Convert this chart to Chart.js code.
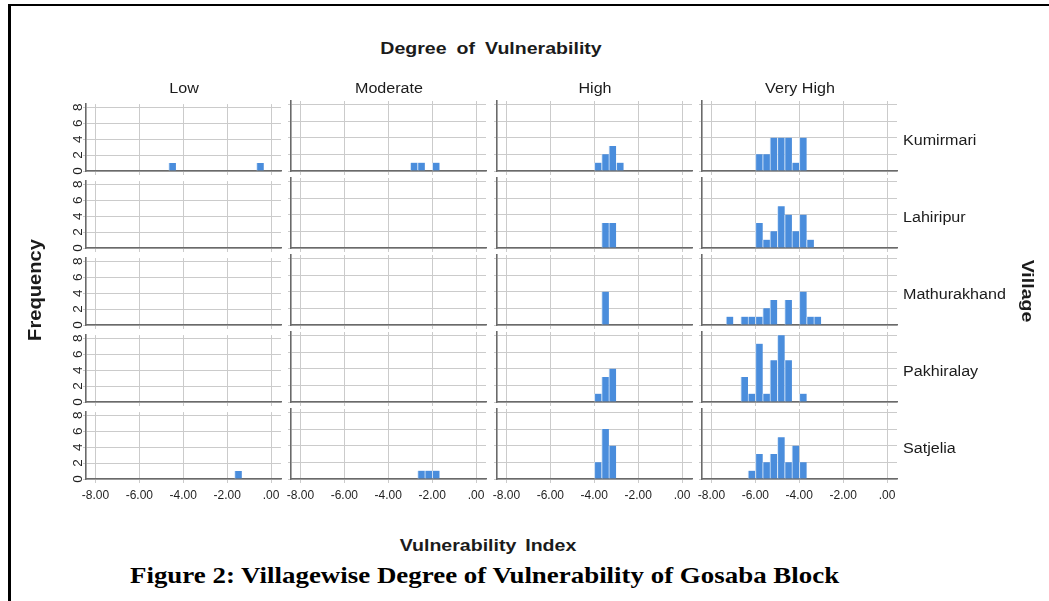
<!DOCTYPE html>
<html><head><meta charset="utf-8">
<script src="https://cdn.jsdelivr.net/npm/chart.js@4.4.1/dist/chart.umd.min.js"></script>
<style>
html,body{margin:0;padding:0;background:#fff;}
body{width:1049px;height:601px;position:relative;overflow:hidden;font-family:"Liberation Sans",Arial,sans-serif;}
.t{position:absolute;white-space:nowrap;color:#1b1b1b;transform:translate(-50%,-50%);line-height:1;}
canvas{position:absolute;}
</style></head><body>
<div style="position:absolute;left:8px;top:4px;width:3px;height:597px;background:#000"></div>
<div style="position:absolute;left:8px;top:4px;width:1041px;height:2px;background:#000"></div>
<div id="wrap"></div>
<script>
// ---- data ----
const villages = ['Kumirmari', 'Lahiripur', 'Mathurakhand', 'Pakhiralay', 'Satjelia'];
const degrees = ['Low', 'Moderate', 'High', 'Very High'];
const binCenters = [-7.17, -6.83, -6.50, -6.17, -5.83, -5.50, -5.17, -4.83, -4.50, -4.17, -3.83,
                    -3.50, -3.17, -2.83, -2.50, -2.17, -1.83, -1.50, -1.17, -0.83, -0.50];
const xTickValues = [-8, -6, -4, -2, 0];
const xTickLabels = ['-8.00', '-6.00', '-4.00', '-2.00', '.00'];
const yTickValues = [0, 2, 4, 6, 8];
const yTickLabels = ['0', '2', '4', '6', '8'];

const kumirmariLow       = [0,0,0,0,0,0,0,0,1,0,0,0,0,0,0,0,0,0,0,0,1];
const kumirmariModerate  = [0,0,0,0,0,0,0,0,0,0,0,0,0,1,1,0,1,0,0,0,0];
const kumirmariHigh      = [0,0,0,0,0,0,0,0,0,0,1,2,3,1,0,0,0,0,0,0,0];
const kumirmariVeryHigh  = [0,0,0,0,2,2,4,4,4,1,4,0,0,0,0,0,0,0,0,0,0];

const lahiripurLow       = [0,0,0,0,0,0,0,0,0,0,0,0,0,0,0,0,0,0,0,0,0];
const lahiripurModerate  = [0,0,0,0,0,0,0,0,0,0,0,0,0,0,0,0,0,0,0,0,0];
const lahiripurHigh      = [0,0,0,0,0,0,0,0,0,0,0,3,3,0,0,0,0,0,0,0,0];
const lahiripurVeryHigh  = [0,0,0,0,3,1,2,5,4,2,4,1,0,0,0,0,0,0,0,0,0];

const mathurakhandLow      = [0,0,0,0,0,0,0,0,0,0,0,0,0,0,0,0,0,0,0,0,0];
const mathurakhandModerate = [0,0,0,0,0,0,0,0,0,0,0,0,0,0,0,0,0,0,0,0,0];
const mathurakhandHigh     = [0,0,0,0,0,0,0,0,0,0,0,4,0,0,0,0,0,0,0,0,0];
const mathurakhandVeryHigh = [1,0,1,1,1,2,3,0,3,0,4,1,1,0,0,0,0,0,0,0,0];

const pakhiralayLow       = [0,0,0,0,0,0,0,0,0,0,0,0,0,0,0,0,0,0,0,0,0];
const pakhiralayModerate  = [0,0,0,0,0,0,0,0,0,0,0,0,0,0,0,0,0,0,0,0,0];
const pakhiralayHigh      = [0,0,0,0,0,0,0,0,0,0,1,3,4,0,0,0,0,0,0,0,0];
const pakhiralayVeryHigh  = [0,0,3,1,7,1,5,8,5,0,1,0,0,0,0,0,0,0,0,0,0];

const satjeliaLow         = [0,0,0,0,0,0,0,0,0,0,0,0,0,0,0,0,0,1,0,0,0];
const satjeliaModerate    = [0,0,0,0,0,0,0,0,0,0,0,0,0,0,1,1,1,0,0,0,0];
const satjeliaHigh        = [0,0,0,0,0,0,0,0,0,0,2,6,4,0,0,0,0,0,0,0,0];
const satjeliaVeryHigh    = [0,0,0,1,3,2,3,5,2,4,2,0,0,0,0,0,0,0,0,0,0];

const panelCounts = [
  [kumirmariLow, kumirmariModerate, kumirmariHigh, kumirmariVeryHigh],
  [lahiripurLow, lahiripurModerate, lahiripurHigh, lahiripurVeryHigh],
  [mathurakhandLow, mathurakhandModerate, mathurakhandHigh, mathurakhandVeryHigh],
  [pakhiralayLow, pakhiralayModerate, pakhiralayHigh, pakhiralayVeryHigh],
  [satjeliaLow, satjeliaModerate, satjeliaHigh, satjeliaVeryHigh]
];

// ---- layout ----
const colLeft = [86, 291, 497, 702];
const panelW = 195;
const rowBottom = [171, 248, 325, 402, 479];
const panelH = 70;
const axisW = 30, axisH = 26, padT = 6, padR = 8;
const wrap = document.getElementById('wrap');

function addText(txt, cx, cy, style) {
  const d = document.createElement('div');
  d.className = 't';
  d.textContent = txt;
  d.style.left = cx + 'px';
  d.style.top = cy + 'px';
  Object.assign(d.style, style || {});
  document.body.appendChild(d);
  return d;
}

const gridColor = '#cbcbcb';
const axisColor = '#6a6a6a';

villages.forEach((v, r) => {
  degrees.forEach((g, c) => {
    const cv = document.createElement('canvas');
    const w = axisW + panelW + padR, h = padT + panelH + axisH;
    cv.width = w; cv.height = h;
    cv.style.left = (colLeft[c] - axisW) + 'px';
    cv.style.top = (rowBottom[r] - panelH - padT) + 'px';
    cv.style.width = w + 'px'; cv.style.height = h + 'px';
    wrap.appendChild(cv);
    const isLeft = c === 0, isBottom = r === villages.length - 1;
    const counts = panelCounts[r][c];
    new Chart(cv, {
      type: 'bar',
      data: {
        datasets: [{
          data: binCenters.map((x, i) => ({x: x, y: counts[i]})),
          backgroundColor: '#4a8ddc',
          borderColor: 'rgba(205,225,248,0.95)',
          borderWidth: {left: 1, right: 0, top: 0, bottom: 0},
          borderSkipped: 'start',
          barPercentage: 1,
          categoryPercentage: 1
        }]
      },
      options: {
        responsive: false, animation: false, events: [],
        layout: {padding: {top: padT, right: padR, left: 0, bottom: 0}},
        plugins: {legend: {display: false}, tooltip: {enabled: false}, title: {display: false}},
        scales: {
          x: {
            type: 'linear', min: -8.43, max: 0.45, offset: false,
            grid: {color: gridColor, lineWidth: 1, tickLength: 4, drawTicks: true, offset: false},
            border: {color: axisColor, width: 1.6},
            ticks: {
              display: isBottom, stepSize: 2, includeBounds: false, autoSkip: false,
              minRotation: 0, maxRotation: 0, padding: 5, color: '#1f1f1f',
              font: {family: 'Liberation Sans', size: 12},
              callback: (val) => { const k = xTickValues.indexOf(val); return k >= 0 ? xTickLabels[k] : ''; }
            },
            afterFit: (s) => { s.height = axisH; }
          },
          y: {
            type: 'linear', min: 0, max: 8.4,
            grid: {color: gridColor, lineWidth: 1, tickLength: 3, drawTicks: true},
            border: {color: axisColor, width: 1.6},
            ticks: {
              display: isLeft, stepSize: 2, includeBounds: false, autoSkip: false,
              minRotation: 90, maxRotation: 90, crossAlign: 'center', padding: 1, color: '#1f1f1f',
              font: {family: 'Liberation Sans', size: 13.5},
              callback: (val) => { const k = yTickValues.indexOf(val); return k >= 0 ? yTickLabels[k] : ''; }
            },
            afterFit: (s) => { s.width = axisW; }
          }
        }
      }
    });
  });
});

// ---- texts ----
const sx = 'scaleX(1.15)';
addText('Degree of Vulnerability', 491, 48, {fontWeight: 'bold', fontSize: '17px', wordSpacing: '4px', transform: 'translate(-50%,-50%) ' + sx});
degrees.forEach((g, c) => addText(g, colLeft[c] + panelW / 2, 88, {fontSize: '14px', transform: 'translate(-50%,-50%) ' + sx}));
villages.forEach((v, r) => addText(v, 903, rowBottom[r] - 31, {fontSize: '14px', transformOrigin: '0 50%', transform: 'translate(0,-50%) ' + sx}));
addText('Village', 1027, 291, {fontWeight: 'bold', fontSize: '17px', transform: 'translate(-50%,-50%) rotate(90deg) ' + sx});
addText('Frequency', 36, 290, {fontWeight: 'bold', fontSize: '17.5px', transform: 'translate(-50%,-50%) rotate(-90deg) ' + sx});
addText('Vulnerability Index', 488, 545, {fontWeight: 'bold', fontSize: '17px', wordSpacing: '3px', transform: 'translate(-50%,-50%) ' + sx});
addText('Figure 2: Villagewise Degree of Vulnerability of Gosaba Block', 130, 575,
  {fontFamily: '"Liberation Serif","Times New Roman",serif', fontWeight: 'bold', fontSize: '23px', color: '#000',
   transformOrigin: '0 50%', transform: 'translate(0,-50%) scaleX(1.17)'});
</script>
</body></html>
